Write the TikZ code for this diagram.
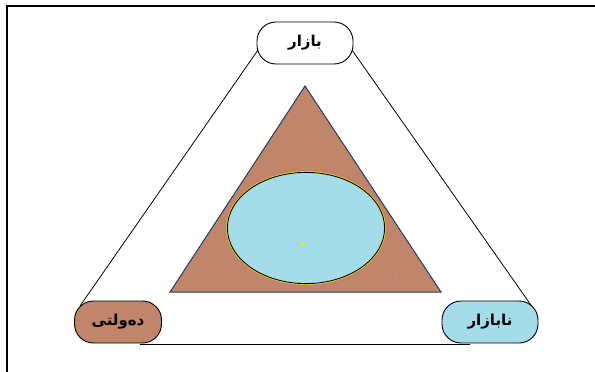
\documentclass[tikz,border=0pt]{standalone}
\usepackage{fontspec}
\newfontfamily\arabicfont[Script=Arabic]{DejaVu Sans}
\TeXXeTstate=1
\definecolor{brownf}{HTML}{C0856A}
\definecolor{bluef}{HTML}{A4DCEA}
\definecolor{triline}{HTML}{1F3F5A}
\tikzset{
  lbl/.style={draw=black, line width=0.9pt, rounded corners=19pt, minimum height=42pt, inner sep=0pt, font=\arabicfont\bfseries\fontsize{15}{17}\selectfont},
  edge/.style={draw=black, line width=0.8pt}
}
\begin{document}
\begin{tikzpicture}[x=1pt,y=-1pt]
\useasboundingbox (0,0) rectangle (595,372);
% frame
\draw[line width=1.6pt] (7,372) -- (7,6) -- (595,6);
% outer triangle
\coordinate (tl) at (258,50);
\coordinate (bl) at (80,306);
\coordinate (tr) at (352,50);
\coordinate (br) at (533,308);
\coordinate (b1) at (140,344);
\coordinate (b2) at (470,344);
\draw[edge] (tl) -- (bl);
\draw[edge] (tr) -- (br);
\draw[edge] (b1) -- (b2);
% inner triangle
\node[coordinate] (ia) at (305,86) {};
\node[coordinate] (ib) at (170,292) {};
\node[coordinate] (ic) at (441,292) {};
\draw[fill=brownf, draw=triline, line width=1pt] (ia) -- (ib) -- (ic) -- cycle;
% ellipse
\draw[fill=bluef, draw=yellow, line width=1.3pt] (306,228) ellipse [x radius=79, y radius=56];
\draw[draw=black, line width=0.9pt] (306,228) ellipse [x radius=78.6, y radius=55.6];
\draw[yellow, line width=1pt] (301,244) -- (306,244);
\fill[gray!70] (396,276) circle (0.8);
% boxes
\node[lbl, fill=white, minimum width=96pt] (bazar) at (305,43) {\beginR بازار\endR};
\node[lbl, fill=brownf, minimum width=87pt] (dawlati) at (118,322) {\beginR دەولتی\endR};
\node[lbl, fill=bluef, minimum width=96pt] (nabazar) at (490,322) {\beginR نابازار\endR};
\end{tikzpicture}
\end{document}
